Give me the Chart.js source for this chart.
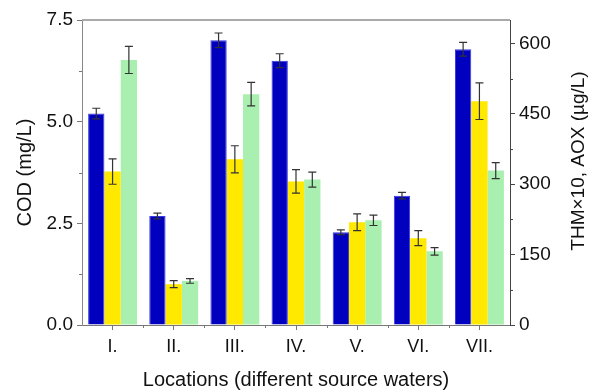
<!DOCTYPE html>
<html><head><meta charset="utf-8">
<script src="https://cdn.jsdelivr.net/npm/chart.js@4.4.1/dist/chart.umd.min.js"></script>
<style>html,body{margin:0;padding:0;background:#fff}#wrap{width:590px;height:390px}</style>
</head><body><div id="wrap"><canvas id="c" width="590" height="390"></canvas></div>
<script>
const categories = ['I.', 'II.', 'III.', 'IV.', 'V.', 'VI.', 'VII.'];
const codValues = [5.2, 2.68, 7.0, 6.5, 2.28, 3.18, 6.78];
const codErrors = [0.13, 0.07, 0.18, 0.17, 0.06, 0.08, 0.17];
const thmValues = [327, 87, 353, 306, 219, 185, 477];
const thmErrors = [27, 7.5, 29, 25, 18, 16, 39];
const aoxValues = [565, 94, 492, 310, 223, 157, 329];
const aoxErrors = [29, 5, 25, 16, 11, 8, 17];
const leftTicks = [0, 2.5, 5.0, 7.5];
const rightTicks = [0, 150, 300, 450, 600];
const rightTitle = 'THM×10, AOX (µg/L)';

const FONT = "'Liberation Sans', Arial, sans-serif";

const errorPlugin = {
  id: 'errbars',
  afterDatasetsDraw(chart) {
    const ctx = chart.ctx;
    ctx.save();
    ctx.strokeStyle = '#333';
    ctx.lineWidth = 1.2;
    chart.data.datasets.forEach((ds, di) => {
      const meta = chart.getDatasetMeta(di);
      const scale = chart.scales[ds.yAxisID];
      meta.data.forEach((bar, i) => {
        const v = ds.data[i], e = ds.errors[i];
        const x = bar.x;
        const y1 = scale.getPixelForValue(v + e), y2 = scale.getPixelForValue(v - e);
        ctx.beginPath();
        ctx.moveTo(x, y1); ctx.lineTo(x, y2);
        ctx.moveTo(x - 4, y1); ctx.lineTo(x + 4, y1);
        ctx.moveTo(x - 4, y2); ctx.lineTo(x + 4, y2);
        ctx.stroke();
      });
    });
    ctx.restore();
  }
};

const framePlugin = {
  id: 'frame',
  afterDraw(chart) {
    const ctx = chart.ctx, a = chart.chartArea;
    ctx.save();
    ctx.strokeStyle = '#aaa'; ctx.lineWidth = 2;
    ctx.beginPath(); ctx.moveTo(a.left, a.top); ctx.lineTo(a.right, a.top); ctx.stroke();
    // minor ticks
    ctx.lineWidth = 1;
    const yl = chart.scales.y, yr = chart.scales.y1, x = chart.scales.x;
    ctx.strokeStyle = '#777';
    for (let i = 0; i < leftTicks.length - 1; i++) {
      const m = (leftTicks[i] + leftTicks[i + 1]) / 2;
      const py = Math.round(yl.getPixelForValue(m)) + 0.5;
      ctx.beginPath(); ctx.moveTo(a.left, py); ctx.lineTo(a.left - 3, py); ctx.stroke();
    }
    ctx.strokeStyle = '#444';
    const rmin = rightTicks.concat([rightTicks[rightTicks.length - 1] + 150]);
    for (let i = 0; i < rmin.length - 1; i++) {
      const m = (rmin[i] + rmin[i + 1]) / 2;
      if (m > yr.max) continue;
      const py = Math.round(yr.getPixelForValue(m)) + 0.5;
      ctx.beginPath(); ctx.moveTo(a.right, py); ctx.lineTo(a.right + 3, py); ctx.stroke();
    }
    ctx.strokeStyle = '#777';
    for (let i = 0; i < categories.length - 1; i++) {
      const px = Math.round((x.getPixelForValue(i) + x.getPixelForValue(i + 1)) / 2) + 0.5;
      ctx.beginPath(); ctx.moveTo(px, a.bottom); ctx.lineTo(px, a.bottom + 3); ctx.stroke();
    }
    // right axis title, reading bottom-to-top
    ctx.fillStyle = '#111';
    ctx.font = '19px ' + FONT;
    ctx.textAlign = 'center';
    ctx.textBaseline = 'middle';
    ctx.translate(579, 161);
    ctx.rotate(-Math.PI / 2);
    ctx.fillText(rightTitle, 0, 0);
    ctx.restore();
  }
};

new Chart(document.getElementById('c'), {
  type: 'bar',
  data: {
    labels: categories,
    datasets: [
      { label: 'COD', data: codValues, errors: codErrors, yAxisID: 'y', backgroundColor: '#0000BE', borderColor: '#3838E0', borderWidth: 1 },
      { label: 'THM×10', data: thmValues, errors: thmErrors, yAxisID: 'y1', backgroundColor: '#FFE900', borderColor: '#FFE900', borderWidth: 0 },
      { label: 'AOX', data: aoxValues, errors: aoxErrors, yAxisID: 'y1', backgroundColor: '#A9EFAF', borderColor: '#A9EFAF', borderWidth: 0 }
    ]
  },
  options: {
    responsive: false,
    animation: false,
    devicePixelRatio: 1,
    layout: { padding: { top: 20, left: 0, right: 0, bottom: 0 } },
    plugins: { legend: { display: false }, tooltip: { enabled: false } },
    datasets: { bar: { barPercentage: 1.0, categoryPercentage: 0.8 } },
    scales: {
      x: {
        grid: { display: true, drawOnChartArea: false, offset: false, drawTicks: true, tickLength: 5, color: '#777' },
        border: { display: true, color: '#777', width: 1 },
        ticks: { color: '#111', font: { family: FONT, size: 18 }, padding: 6, maxRotation: 0 },
        title: { display: true, text: 'Locations (different source waters)', color: '#111', font: { family: FONT, size: 20, lineHeight: 1.0 }, padding: { top: 0, bottom: 0 } },
        afterFit(s) { s.height = 65; }
      },
      y: {
        position: 'left', min: 0, max: 7.5,
        afterBuildTicks(s) { s.ticks = leftTicks.map(v => ({ value: v })); },
        grid: { display: true, drawOnChartArea: false, drawTicks: true, tickLength: 5, color: '#777' },
        border: { display: true, color: '#888', width: 1 },
        ticks: { color: '#111', font: { family: FONT, size: 19 }, padding: 4, callback: v => Number(v).toFixed(1) },
        title: { display: true, text: 'COD (mg/L)', color: '#111', font: { family: FONT, size: 20, lineHeight: 1.2 }, padding: { top: 13, bottom: 0 } },
        afterFit(s) { s.width = 82; }
      },
      y1: {
        position: 'right', min: 0, max: 650,
        afterBuildTicks(s) { s.ticks = rightTicks.map(v => ({ value: v })); },
        grid: { display: true, drawOnChartArea: false, drawTicks: true, tickLength: 5, color: '#444' },
        border: { display: true, color: '#444', width: 1 },
        ticks: { color: '#111', font: { family: FONT, size: 19 }, padding: 4 },
        title: { display: false },
        afterFit(s) { s.width = 80; }
      }
    }
  },
  plugins: [errorPlugin, framePlugin]
});
</script>
</body></html>
